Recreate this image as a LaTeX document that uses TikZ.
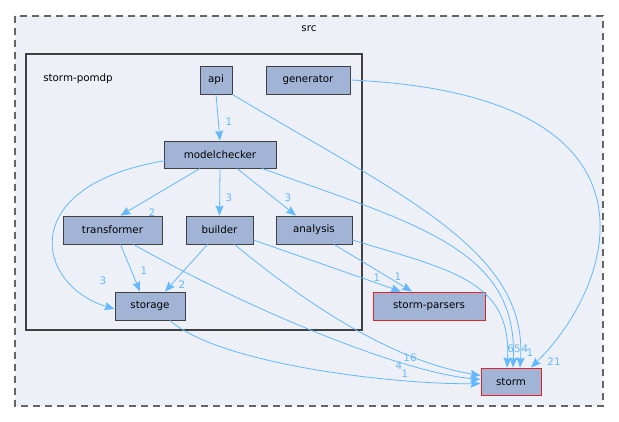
\documentclass[tikz,border=0pt]{standalone}
\usepackage{fontspec}
\setmainfont{DejaVu Sans}
\usetikzlibrary{arrows.meta}
\definecolor{nodefill}{HTML}{A2B4D6}
\definecolor{nodeline}{HTML}{404040}
\definecolor{edgecol}{HTML}{63B8FF}
\definecolor{clusterfill}{HTML}{EDF0F7}
\definecolor{redline}{HTML}{E0242A}
\tikzset{
  dirbox/.style={draw=nodeline, fill=nodefill, line width=0.9pt, minimum height=28pt, inner sep=0pt, font=\fontsize{10.3}{12}\selectfont, text=black},
  extbox/.style={dirbox, draw=redline},
  dep/.style={draw=edgecol, line width=0.8pt, -{Stealth[length=10pt,width=8pt,inset=1.5pt]}},
  deplabel/.style={text=edgecol, font=\fontsize{10.3}{12}\selectfont, inner sep=0pt},
  clabel/.style={font=\fontsize{10.3}{12}\selectfont, text=black, inner sep=0pt}
}
\begin{document}
\begin{tikzpicture}[x=1pt,y=-1pt]
\useasboundingbox (0,0) rectangle (619,422);
\fill[white] (0,0) rectangle (619,422);
% clusters
\draw[draw=gray!80!black, fill=clusterfill, dash pattern=on 7pt off 5pt, line width=1.1pt] (15,16) rectangle (603,406);
\node[clabel] (srclabel) at (309,29) {src};
\draw[draw=nodeline, fill=clusterfill, line width=1.8pt] (26,54) rectangle (362,330);
\node[clabel] (pomdplabel) at (78,79) {storm-pomdp};
% nodes
\node[dirbox, minimum width=32pt] (api) at (216,80) {api};
\node[dirbox, minimum width=84pt] (generator) at (308,80) {generator};
\node[dirbox, minimum width=112pt, minimum height=27pt] (modelchecker) at (220,154.5) {modelchecker};
\node[dirbox, minimum width=99pt] (transformer) at (112.5,230) {transformer};
\node[dirbox, minimum width=67pt] (builder) at (219.5,230) {builder};
\node[dirbox, minimum width=76pt] (analysis) at (314,230) {analysis};
\node[dirbox, minimum width=70pt] (storage) at (150,306) {storage};
\node[extbox, minimum width=112pt] (parsers) at (429,306) {storm-parsers};
\node[extbox, minimum width=60pt, minimum height=27pt] (storm) at (511,381.5) {storm};
% edges
\draw[dep] (api.south) -- (modelchecker.north);
\node[deplabel] (l1) at (229,122) {1};
\draw[dep] (api.south east) .. controls (400,195) and (528,250) .. ([xshift=9pt]storm.north);
\draw[dep] (generator.east) .. controls (680,95) and (615,285) .. ([xshift=20pt]storm.north);
\node[deplabel] (l21) at (554,362) {21};
\draw[dep] ([xshift=-54pt,yshift=-6pt]modelchecker.center) .. controls (15,185) and (35,285) .. ([yshift=-3pt]storage.west);
\node[deplabel] (l3a) at (103,281) {3};
\draw[dep] ([xshift=-20pt]modelchecker.south) -- ([xshift=8pt]transformer.north);
\node[deplabel] (l2a) at (152,213) {2};
\draw[dep] (modelchecker.south) -- (builder.north);
\node[deplabel] (l3b) at (229,198) {3};
\draw[dep] ([xshift=17pt]modelchecker.south) -- ([xshift=-18pt]analysis.north);
\node[deplabel] (l3c) at (288,198) {3};
\draw[dep] ([xshift=42pt]modelchecker.south) .. controls (420,225) and (518,250) .. ([xshift=2pt]storm.north);
\draw[dep] ([xshift=8pt]transformer.south) -- ([xshift=-10pt]storage.north);
\node[deplabel] (l1b) at (144,271) {1};
\draw[dep] ([xshift=21pt]transformer.south) .. controls (250,310) and (400,372) .. ([yshift=2pt]storm.west);
\draw[dep] ([xshift=-12pt]builder.south) -- ([xshift=15pt]storage.north);
\node[deplabel] (l2b) at (182,285) {2};
\draw[dep] ([xshift=15pt]builder.south) .. controls (320,315) and (400,362) .. ([yshift=6pt]storm.west);
\draw[dep] ([yshift=-10pt]builder.east) -- ([xshift=-28pt]parsers.north);
\node[deplabel] (l1c) at (377,278) {1};
\draw[dep] ([xshift=20pt]analysis.south) -- ([xshift=-17pt]parsers.north);
\node[deplabel] (l1d) at (398,277) {1};
\draw[dep] ([yshift=-10pt]analysis.east) .. controls (450,270) and (512,280) .. ([xshift=-4pt]storm.north);
\draw[dep] ([xshift=20pt]storage.south) .. controls (220,365) and (400,385) .. ([yshift=-2pt]storm.west);
\node[deplabel] (l16) at (410,358) {16};
\node[deplabel] (l4) at (399,366) {4};
\node[deplabel] (l1e) at (405,374) {1};
\node[deplabel] (l65) at (514,349) {65};
\node[deplabel] (l4b) at (525,349) {4};
\node[deplabel] (l1f) at (530,353) {1};
\end{tikzpicture}
\end{document}
